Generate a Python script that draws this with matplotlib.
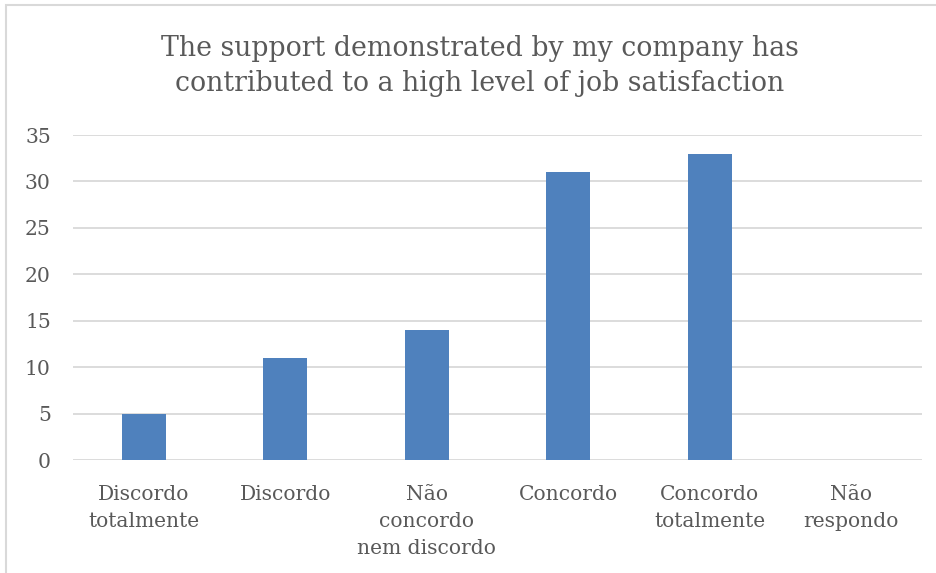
import matplotlib.pyplot as plt
from matplotlib.patches import Rectangle

categorias = ["Discordo\ntotalmente", "Discordo", "Não\nconcordo\nnem discordo",
              "Concordo", "Concordo\ntotalmente", "Não\nrespondo"]
respostas = [5, 11, 14, 31, 33, 0]
titulo = "The support demonstrated by my company has\ncontributed to a high level of job satisfaction"

plt.rcParams['font.family'] = ['DejaVu Serif']
cinza = '#595959'

fig = plt.figure(figsize=(9.37, 5.73), dpi=100)
ax = fig.add_axes([73 / 937, 1 - 460 / 573, (922 - 73) / 937, (460 - 135) / 573])

# moldura clara em volta do gráfico
fig.patches.append(Rectangle((6 / 937, -0.1), 1.2, (573 - 5) / 573 + 0.1,
                             transform=fig.transFigure, fill=False,
                             edgecolor='#D9D9D9', linewidth=1.5))

pos = range(len(categorias))
ax.bar(pos, respostas, width=0.31, color='#4F81BD', zorder=3)

ax.set_xlim(-0.5, len(categorias) - 0.5)
ax.set_ylim(0, 35)
ax.set_yticks(range(0, 36, 5))
ax.set_xticks(list(pos))
ax.set_xticklabels(categorias, fontsize=14.6, color=cinza, linespacing=1.53)
ax.tick_params(axis='y', labelsize=14.6, labelcolor=cinza, length=0, pad=16)
ax.tick_params(axis='x', length=0, pad=18)
ax.grid(axis='y', color='#D9D9D9', linewidth=1.3, zorder=0)
for s in ax.spines.values():
    s.set_visible(False)

fig.text(480 / 937, 1 - 66 / 573, titulo, ha='center', va='center',
         fontsize=19.3, color=cinza, linespacing=1.42)

fig.savefig("out.png", dpi=100)
